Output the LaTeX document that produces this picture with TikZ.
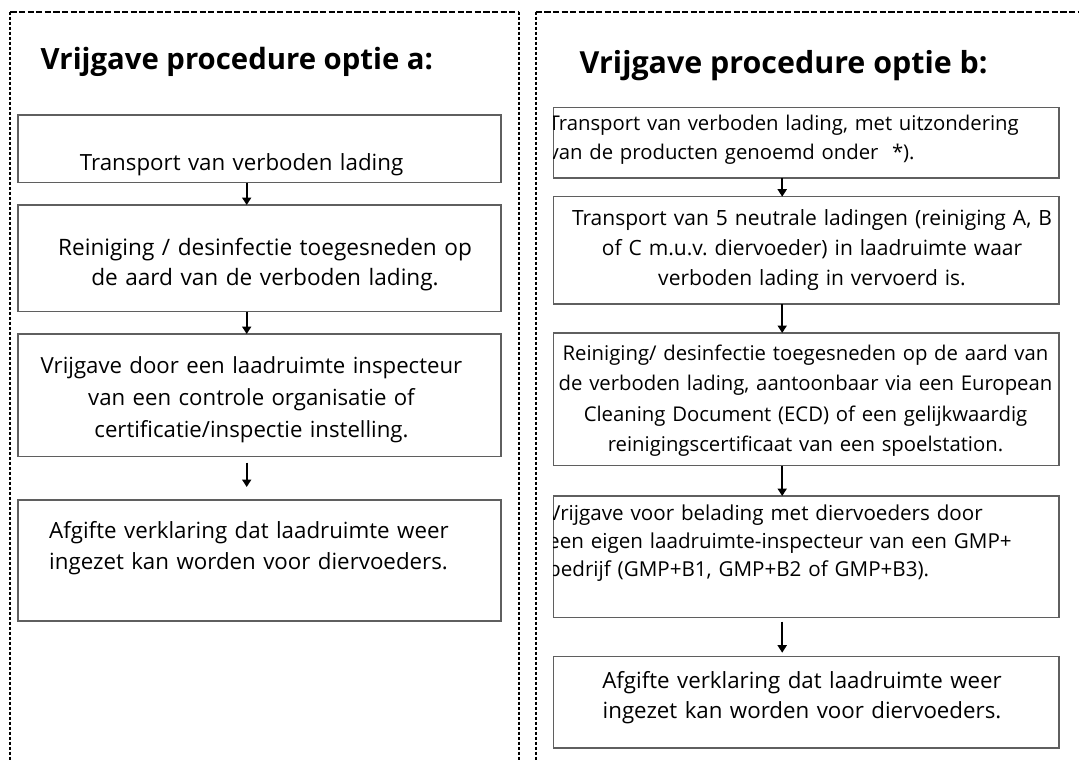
\documentclass[tikz,border=0pt]{standalone}
\usepackage{fontspec}
\setmainfont{Open Sans}
\usetikzlibrary{arrows.meta,calc}
\definecolor{boxgray}{RGB}{95,95,95}
\frenchspacing
\begin{document}
\frenchspacing
\begin{tikzpicture}[x=1pt,y=-1pt,
  boxa/.style={draw=boxgray,line width=1.2pt,inner sep=0pt,outer sep=0pt,anchor=north west,minimum width=483pt},
  boxb/.style={draw=boxgray,line width=1.2pt,inner sep=0pt,outer sep=0pt,anchor=north west,minimum width=505.5pt},
  txt/.style={inner sep=0pt,font=\fontsize{22.3}{30}\selectfont\frenchspacing,text width=600pt,align=center,anchor=base},
  txtl/.style={inner sep=0pt,font=\fontsize{22.3}{30}\selectfont\frenchspacing,text width=600pt,align=left,anchor=base west},
  ttl/.style={inner sep=0pt,font=\bfseries\fontsize{29.3}{36}\selectfont,anchor=base west},
  arr/.style={-{Triangle[width=9pt,length=7.5pt]},line width=2pt},
  panelh/.style={line width=2pt,dash pattern=on 6.3pt off 2.3pt},
  panelv/.style={line width=2pt,dash pattern=on 3.3pt off 1.7pt}]
\useasboundingbox (0,0) rectangle (1079,760);
\clip (0,0) rectangle (1079,760);
% panels
\draw[panelh] (10.3,11.7) -- (519.3,11.7);
\draw[panelv] (10.3,11.7) -- (10.3,770);
\draw[panelv] (519.3,11.7) -- (519.3,770);
\draw[panelh] (535.7,11.7) -- (1090,11.7);
\draw[panelv] (535.7,11.7) -- (535.7,770);
% titles
\node[ttl] (ta) at (40.5,69.5) {Vrijgave procedure optie a:};
\node[ttl,font=\bfseries\fontsize{30.4}{36}\selectfont] (tb) at (579.5,74) {Vrijgave procedure optie b:};
% left column
\node[boxa,minimum height=67.5pt] (a1) at (18,115) {};
\node[boxa,minimum height=106.7pt] (a2) at (18,205) {};
\node[boxa,minimum height=122.7pt] (a3) at (18,334) {};
\node[boxa,minimum height=121pt] (a4) at (18,500) {};
\node[txtl] (a1t) at (79.7,170) {Transport van verboden lading};
\node[txt,font=\fontsize{22.6}{30}\selectfont\frenchspacing] (a2t) at (265,255) {Reiniging / desinfectie toegesneden op\\de aard van de verboden lading.};
\node[txt,font=\fontsize{22.2}{32}\selectfont\frenchspacing] (a3t) at (251.5,373) {Vrijgave door een laadruimte inspecteur\\van een controle organisatie of\\certificatie/inspectie instelling.};
\node[txtl,font=\fontsize{22.3}{31}\selectfont\frenchspacing] (a4t) at (49,538) {Afgifte verklaring dat laadruimte weer\\ingezet kan worden voor diervoeders.};
\coordinate (axl) at (246.7,0);
\draw[arr] (a1.south -| axl) -- (a2.north -| axl);
\draw[arr] (a2.south -| axl) -- (a3.north -| axl);
\draw[arr,shorten <=6pt,shorten >=13pt] (a3.south -| axl) -- (a4.north -| axl);
% right column
\node[boxb,minimum height=70.5pt] (b1) at (553.5,107.5) {};
\node[boxb,minimum height=107.3pt] (b2) at (553.5,196.7) {};
\node[boxb,minimum height=132.7pt] (b3) at (553.5,333) {};
\node[boxb,minimum height=121.7pt] (b4) at (553.5,496) {};
\node[boxb,minimum height=91.3pt] (b5) at (553.5,656.7) {};
\begin{scope}
\clip (b1.north west) rectangle (b1.south east);
\node[txtl,font=\fontsize{20.3}{29}\selectfont\frenchspacing] (b1t) at (548.5,130) {Transport van verboden lading, met uitzondering\\van de producten genoemd onder\ \ *).};
\end{scope}
\node[txt,font=\fontsize{21}{30}\selectfont\frenchspacing] (b2t) at (812,225) {Transport van 5 neutrale ladingen (reiniging A, B\\of C m.u.v. diervoeder) in laadruimte waar\\verboden lading in vervoerd is.};
\node[txt,font=\fontsize{20.3}{30.5}\selectfont\frenchspacing] (b3t) at (805.5,360) {Reiniging/ desinfectie toegesneden op de aard van\\de verboden lading, aantoonbaar via een European\\Cleaning Document (ECD) of een gelijkwaardig\\reinigingscertificaat van een spoelstation.};
\begin{scope}
\clip (b4.north west) rectangle (b4.south east);
\node[txtl,font=\fontsize{20.6}{28.3}\selectfont\frenchspacing] (b4t) at (548,520) {Vrijgave voor belading met diervoeders door\\een eigen laadruimte-inspecteur van een GMP+\\bedrijf (GMP+B1, GMP+B2 of GMP+B3).};
\end{scope}
\node[txt] (b5t) at (802,688) {Afgifte verklaring dat laadruimte weer\\ingezet kan worden voor diervoeders.};
\coordinate (axr) at (782.2,0);
\draw[arr] (b1.south -| axr) -- (b2.north -| axr);
\draw[arr] (b2.south -| axr) -- (b3.north -| axr);
\draw[arr] (b3.south -| axr) -- (b4.north -| axr);
\draw[arr,shorten <=4pt,shorten >=4pt] (b4.south -| axr) -- (b5.north -| axr);
\end{tikzpicture}
\end{document}
